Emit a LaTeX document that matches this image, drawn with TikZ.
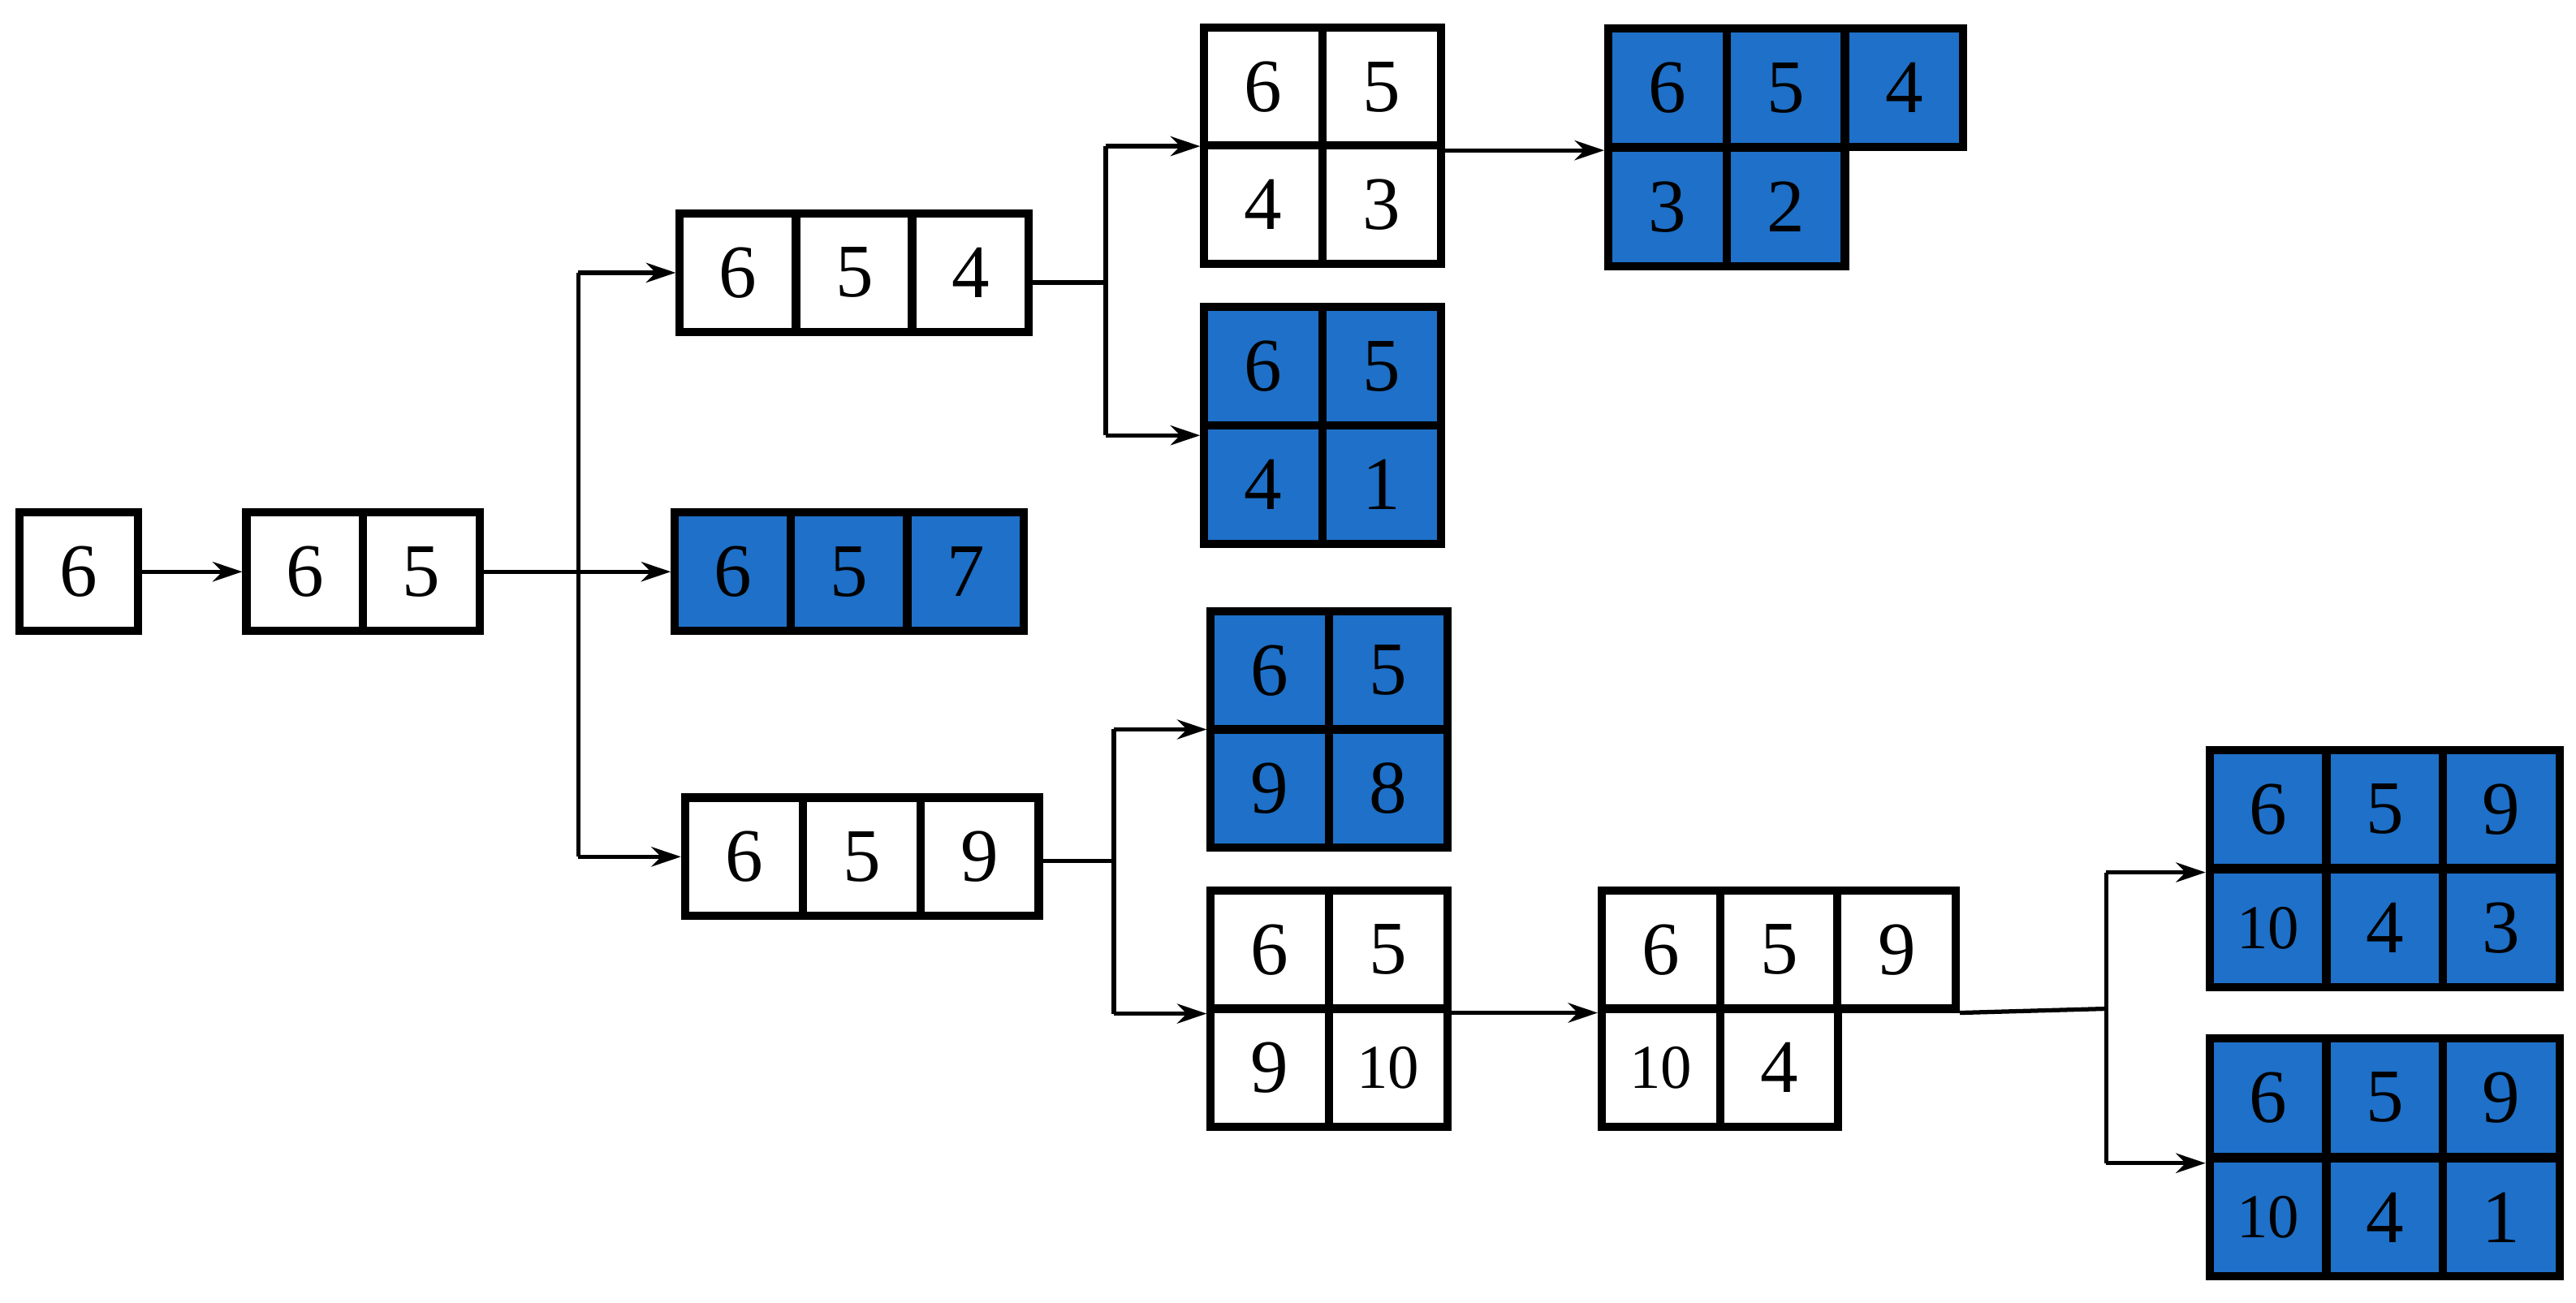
\documentclass[tikz,border=0pt]{standalone}
\usepackage{fontspec}
\setmainfont{Liberation Serif}
\usetikzlibrary{arrows.meta}
\definecolor{cblue}{RGB}{30,112,200}
\tikzset{
 cell/.style={draw=black,line width=5pt,inner sep=0pt,minimum height=72pt,font=\fontsize{46}{46}\selectfont},
 w/.style={cell,fill=white},
 b/.style={cell,fill=cblue},
 ten/.style={font=\fontsize{38}{38}\selectfont},
 con/.style={line width=2.6pt},
 arr/.style={con,-{Stealth[length=18pt,width=12pt]}}
}
\newcommand\cl[6]{\node[#1,minimum width=#2pt] (#3) at (#4,#5) {#6};}
\begin{document}
\begin{tikzpicture}[x=1pt,y=-1pt]
\path[use as bounding box] (0,0) rectangle (1568,793);
% a
\cl{w}{72}{a}{48}{348}{6}
% b
\cl{w}{71}{b1}{185.5}{348}{6}\cl{w}{71}{b2}{256.5}{348}{5}
% c
\cl{w}{71}{c1}{449.3}{166}{6}\cl{w}{71}{c2}{520}{166}{5}\cl{w}{71}{c3}{590.7}{166}{4}
% d
\cl{b}{71}{d1}{446.3}{348}{6}\cl{b}{71}{d2}{517}{348}{5}\cl{b}{71}{d3}{587.7}{348}{7}
% e
\cl{w}{72}{e1}{453}{521.5}{6}\cl{w}{72}{e2}{524.7}{521.5}{5}\cl{w}{72}{e3}{596.3}{521.5}{9}
% f
\cl{w}{72}{f1}{769}{53}{6}\cl{w}{72}{f2}{841}{53}{5}\cl{w}{72}{f3}{769}{124.5}{4}\cl{w}{72}{f4}{841}{124.5}{3}
% g
\cl{b}{72}{g1}{769}{223}{6}\cl{b}{72}{g2}{841}{223}{5}\cl{b}{72}{g3}{769}{295}{4}\cl{b}{72}{g4}{841}{295}{1}
% h
\cl{b}{72}{h1}{1015}{53.5}{6}\cl{b}{72}{h2}{1087}{53.5}{5}\cl{b}{72}{h3}{1159}{53.5}{4}
\cl{b}{72}{h4}{1015}{126}{3}\cl{b}{72}{h5}{1087}{126}{2}
% i
\cl{b}{72}{i1}{773}{408}{6}\cl{b}{72}{i2}{845}{408}{5}\cl{b}{72}{i3}{773}{480}{9}\cl{b}{72}{i4}{845}{480}{8}
% j
\cl{w}{72}{j1}{773}{578}{6}\cl{w}{72}{j2}{845}{578}{5}\cl{w}{72}{j3}{773}{650}{9}\cl{w,ten}{72}{j4}{845}{650}{10}
% k
\cl{w}{72}{k1}{1011}{578}{6}\cl{w}{72}{k2}{1083}{578}{5}\cl{w}{72}{k3}{1154.5}{578}{9}
\cl{w,ten}{72}{k4}{1011}{650}{10}\cl{w}{72}{k5}{1083}{650}{4}
% l
\cl{b}{71}{l1}{1380.5}{492.5}{6}\cl{b}{71}{l2}{1451.5}{492.5}{5}\cl{b}{71}{l3}{1522.5}{492.5}{9}
\cl{b,ten}{71}{l4}{1380.5}{565}{10}\cl{b}{71}{l5}{1451.5}{565}{4}\cl{b}{71}{l6}{1522.5}{565}{3}
% m
\cl{b}{71}{m1}{1380.5}{668}{6}\cl{b}{71}{m2}{1451.5}{668}{5}\cl{b}{71}{m3}{1522.5}{668}{9}
\cl{b,ten}{71}{m4}{1380.5}{741}{10}\cl{b}{71}{m5}{1451.5}{741}{4}\cl{b}{71}{m6}{1522.5}{741}{1}
% junctions
\coordinate (p0) at (352,348);\coordinate (p1) at (352,166);\coordinate (p2) at (352,521.5);
\coordinate (q0) at (673,172);\coordinate (q1) at (673,89);\coordinate (q2) at (673,265);
\coordinate (s0) at (678,524);\coordinate (s1) at (678,444);\coordinate (s2) at (678,617);
\coordinate (t0) at (1282,614);\coordinate (t1) at (1282,531);\coordinate (t2) at (1282,708);
% connectors
\draw[arr] (a.east) -- (b1.west);
\draw[con] (b2.east) -- (p0);
\draw[con] (p1) -- (p2);
\draw[arr] (p1) -- (c1.west);
\draw[arr] (p0) -- (d1.west);
\draw[arr] (p2) -- (e1.west);
\draw[con] (c3.east |- q0) -- (q0);
\draw[con] (q1) -- (q2);
\draw[arr] (q1) -- (q1 -| f1.west);
\draw[arr] (q2) -- (q2 -| g1.west);
\draw[arr] (f2.south east) -- (f2.south east -| h1.west);
\draw[con] (e3.east |- s0) -- (s0);
\draw[con] (s1) -- (s2);
\draw[arr] (s1) -- (s1 -| i1.west);
\draw[arr] (s2) -- (s2 -| j1.west);
\draw[arr] (j2.south east) -- (j2.south east -| k1.west);
\draw[con] (k3.south east) -- (t0);
\draw[con] (t1) -- (t2);
\draw[arr] (t1) -- (t1 -| l1.west);
\draw[arr] (t2) -- (t2 -| m1.west);
\end{tikzpicture}
\end{document}
